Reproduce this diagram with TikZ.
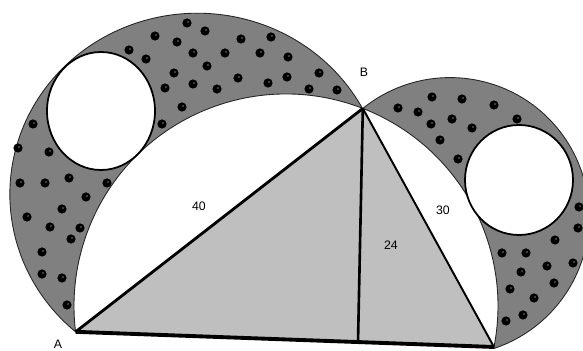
\documentclass[tikz,border=0pt]{standalone}
\usepackage{fontspec}
\setmainfont{Liberation Sans}
\usetikzlibrary{calc}

\begin{document}
\begin{tikzpicture}[x=0.02cm, y=-0.02cm,
    lune/.style={fill=gray, draw=black!85, line width=0.5pt},
    hole/.style={fill=white, draw=black, line width=1pt},
    lbl/.style={font=\fontsize{7}{8}\selectfont, inner sep=0pt}]
    \useasboundingbox (0,0) rectangle (583,351);
    \clip (0,0) rectangle (583,351);
    \fill[white] (0,0) rectangle (583,351);
    \coordinate (O) at (286,306);
    \coordinate (A) at ($(O)+(173:212)$);
    \coordinate (B) at ($(O)+(291.25:212)$);
    \coordinate (C) at ($(O)+(11.15:212)$);
    \coordinate (D) at ($(A)!0.675!(C)$);
    \draw[lune] (A) arc[start angle=130.5, end angle=331.8, x radius=187.5, y radius=181] -- (B)
        arc[start angle=291.25, end angle=173, radius=212] -- cycle;
    \draw[lune] (B) arc[start angle=231.1, end angle=431.4, radius=139] -- (C)
        arc[start angle=11.15, end angle=-68.75, radius=212] -- cycle;
    \foreach \x/\y in {187/23, 205/31, 155/36, 177/42, 241/39, 271/37, 129/50, 193/53, 225/53,
        260/53, 288/57, 146/59, 207/66, 174/73, 193/84, 238/78, 268/83, 287/77, 165/88, 217/89,
        182/107, 162/124, 319/73, 309/89, 337/90, 33/124, 18/148, 49/152, 20/183, 45/183, 69/178,
        107/183, 86/197, 27/217, 62/209, 50/227, 80/228, 71/239, 42/252, 42/274, 62/278, 67/305,
        398/108, 418/112, 432/97, 462/99, 494/105, 517/119, 431/124, 452/119, 472/128, 440/140,
        458/159, 579/207, 578/228, 555/240, 502/253, 526/253, 573/263, 547/266, 521/272, 554/283,
        510/289, 534/298, 523/315, 506/321}
    {
        \fill (\x,\y) circle[radius=4.6];
        \fill[white] (\x+1,\y-1) circle[radius=0.7];
    }
    \draw[hole] (101,111) ellipse[x radius=54, y radius=59];
    \draw[hole] (519,180) ellipse[x radius=54, y radius=55];
    \fill[lightgray] (A) -- (B) -- (C) -- cycle;
    \draw[line width=1.6pt] (A) -- (B);
    \draw[line width=1.1pt] (B) -- (C);
    \draw[line width=2.2pt] (A) -- (C);
    \draw[line width=1.5pt] (B) -- (D);
    \node[lbl] (labA) at (58,344) {A};
    \node[lbl] (labB) at (364,72) {B};
    \node[lbl] (lab40) at (199,206) {40};
    \node[lbl] (lab30) at (443,210) {30};
    \node[lbl] (lab24) at (391,245) {24};
\end{tikzpicture}
\end{document}
